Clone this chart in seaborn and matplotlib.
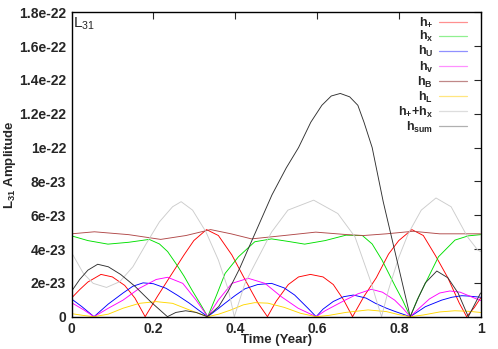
import numpy as np
import pandas as pd
import matplotlib
matplotlib.use('Agg')
import matplotlib.pyplot as plt
import seaborn as sns

# amplitudes, in units of 1e-23
t_plus = [0, 0.02, 0.04, 0.072, 0.1, 0.13, 0.155, 0.18, 0.21, 0.243, 0.275, 0.299, 0.33, 0.359, 0.392,
          0.424, 0.456, 0.479, 0.5, 0.53, 0.555, 0.584, 0.615, 0.64, 0.665, 0.687, 0.715, 0.745, 0.775,
          0.8, 0.832, 0.86, 0.89, 0.92, 0.948, 0.966, 0.985, 1.0]
a_plus = [1.1, 1.6, 2.05, 2.5, 2.35, 1.85, 1.1, 0, 1.2, 2.45, 3.65, 4.5, 5.15, 4.8, 3.65,
          2.2, 0.8, 0, 0.9, 1.9, 2.35, 2.5, 2.35, 1.9, 1.0, 0, 1.2, 2.3, 3.7,
          4.5, 5.15, 4.8, 3.6, 2.3, 0.8, 0, 0.55, 1.1]

t_cross = [0, 0.04, 0.089, 0.14, 0.19, 0.215, 0.235, 0.255, 0.275, 0.295, 0.315, 0.333, 0.355, 0.3755,
           0.408, 0.448, 0.489, 0.53, 0.57, 0.62, 0.671, 0.711, 0.735, 0.759, 0.792, 0.81, 0.828,
           0.845, 0.865, 0.897, 0.9375, 0.97, 1.0]
a_cross = [4.78, 4.5, 4.29, 4.4, 4.57, 4.3, 3.85, 3.15, 2.4, 1.55, 0.75, 0, 1.3, 2.56,
           3.54, 4.43, 4.6, 4.45, 4.29, 4.5, 4.82, 4.8, 4.3, 3.35, 1.77, 0.95, 0,
           1.0, 1.97, 3.54, 4.53, 4.78, 4.85]

t_u = [0, 0.025, 0.055, 0.09, 0.126, 0.15, 0.175, 0.2, 0.231, 0.26, 0.288, 0.31, 0.333, 0.36, 0.375,
       0.4, 0.424, 0.455, 0.489, 0.52, 0.5455, 0.578, 0.598, 0.615, 0.64, 0.665, 0.689, 0.72, 0.743,
       0.77, 0.792, 0.81, 0.828, 0.85, 0.865, 0.905, 0.93, 0.954, 0.97, 1.0]
a_u = [1.05, 0.6, 0, 0.75, 1.4, 1.8, 2.0, 1.95, 1.68, 1.25, 0.8, 0.4, 0, 0.5, 0.79,
       1.25, 1.65, 1.9, 1.97, 1.7, 1.28, 0.5, 0, 0.45, 0.9, 1.18, 1.28, 1.1, 0.79,
       0.5, 0.3, 0.15, 0, 0.35, 0.59, 0.98, 1.15, 1.24, 1.22, 1.15]

t_v = [0, 0.03, 0.055, 0.09, 0.126, 0.166, 0.207, 0.235, 0.272, 0.304, 0.333, 0.359, 0.392, 0.432,
       0.473, 0.513, 0.554, 0.598, 0.62, 0.669, 0.7, 0.733, 0.76, 0.79, 0.81, 0.828, 0.85, 0.875,
       0.9, 0.925, 0.95, 0.975, 1.0]
a_v = [0.83, 0.4, 0, 0.5, 0.98, 1.68, 2.2, 2.33, 1.97, 1.0, 0, 0.98, 1.97, 2.27,
       1.97, 1.18, 0.5, 0, 0.35, 0.98, 1.35, 1.62, 1.45, 0.98, 0.5, 0, 0.5, 1.05,
       1.4, 1.52, 1.45, 1.2, 0.95]

t_b = [0, 0.056, 0.14, 0.218, 0.28, 0.34, 0.39, 0.44, 0.52, 0.597, 0.675, 0.714, 0.77, 0.835, 0.9, 1.0]
a_b = [4.9, 5.02, 4.85, 4.57, 4.8, 5.15, 4.9, 4.6, 4.8, 5.0, 4.85, 4.8, 4.9, 5.05, 4.9, 4.9]

t_l = [0, 0.03, 0.055, 0.09, 0.126, 0.166, 0.207, 0.247, 0.288, 0.315, 0.333, 0.36, 0.39, 0.42,
       0.448, 0.48, 0.52, 0.56, 0.598, 0.63, 0.67, 0.725, 0.77, 0.8, 0.828, 0.86, 0.9, 0.937, 0.97, 1.0]
a_l = [0.18, 0.07, 0, 0.15, 0.5, 0.79, 0.89, 0.79, 0.4, 0.15, 0, 0.15, 0.4, 0.7,
       0.83, 0.8, 0.55, 0.2, 0, 0.08, 0.25, 0.4, 0.3, 0.12, 0, 0.1, 0.28, 0.35, 0.32, 0.25]

t_pc = [0, 0.029, 0.053, 0.0855, 0.118, 0.15, 0.183, 0.215, 0.247, 0.268, 0.296, 0.3285, 0.359, 0.3835,
        0.398, 0.424, 0.448, 0.489, 0.529, 0.592, 0.651, 0.693, 0.733, 0.745, 0.758, 0.775, 0.8, 0.823,
        0.855, 0.891, 0.928, 0.968, 0.993, 1.0]
a_pc = [3.8, 2.56, 1.97, 1.73, 2.07, 2.95, 4.33, 5.61, 6.5, 6.8, 6.3, 5.02, 3.35, 1.58,
        0, 1.97, 3.1, 5.0, 6.3, 6.89, 6.1, 4.72, 1.97, 1.0, 0, 1.6, 3.5, 4.9,
        6.3, 7.02, 6.5, 4.72, 3.94, 3.85]

t_sum = [0, 0.02, 0.04, 0.064, 0.09, 0.12, 0.155, 0.195, 0.2345, 0.255, 0.279, 0.305, 0.332, 0.36,
         0.385, 0.41, 0.45, 0.49, 0.525, 0.555, 0.585, 0.612, 0.635, 0.657, 0.68, 0.7, 0.715, 0.735,
         0.762, 0.795, 0.828, 0.849, 0.865, 0.893, 0.92, 0.945, 0.97, 0.985, 1.0]
a_sum = [1.5, 2.2, 2.75, 3.1, 2.95, 2.5, 1.8, 0.85, 0, 0.25, 0.35, 0.25, 0, 0.6,
         1.6, 2.8, 5.0, 7.2, 8.8, 10.0, 11.5, 12.5, 13.05, 13.2, 13.0, 12.5, 11.5, 10.0,
         6.8, 3.4, 0, 1.18, 2.0, 2.7, 2.3, 1.4, 0, 0.7, 1.4]

names = [r'h$_\mathbf{+}$', r'h$_\mathbf{x}$', r'h$_\mathbf{U}$', r'h$_\mathbf{v}$',
         r'h$_\mathbf{B}$', r'h$_\mathbf{L}$', r'h$_\mathbf{+}$+h$_\mathbf{x}$', r'h$_\mathbf{sum}$']
colors = ['#ff0000', '#00e000', '#0000ff', '#ff00ff', '#b04848', '#ffd700', '#cccccc', '#303030']
legend_colors = ['#ff9090', '#90f090', '#9090ff', '#ff90ff', '#c08888', '#ffe680', '#dddddd', '#b0b0b0']

series_t = [t_plus, t_cross, t_u, t_v, t_b, t_l, t_pc, t_sum]
series_a = [a_plus, a_cross, a_u, a_v, a_b, a_l, a_pc, a_sum]

frames = []
for name, tt, aa in zip(names, series_t, series_a):
    frames.append(pd.DataFrame({'t': tt, 'amp': np.array(aa) * 1e-23, 'series': name}))
df = pd.concat(frames, ignore_index=True)

sns.set_style('white')
plt.rcParams['font.family'] = ['Liberation Sans', 'DejaVu Sans']
plt.rcParams['mathtext.fontset'] = 'custom'
plt.rcParams['mathtext.rm'] = 'Liberation Sans'
plt.rcParams['mathtext.bf'] = 'Liberation Sans:bold'

fig = plt.figure(figsize=(4.98, 3.49), dpi=100)
ax = fig.add_axes([0.1436, 0.0926, 0.8214, 0.8722])

sns.lineplot(data=df, x='t', y='amp', hue='series', hue_order=names, palette=colors,
             estimator=None, sort=False, lw=0.65, ax=ax)

ax.set_xlim(0, 1)
ax.set_ylim(0, 1.8e-22)
ax.set_xticks([0, 0.2, 0.4, 0.6, 0.8, 1])
ax.set_xticklabels(['0', '0.2', '0.4', '0.6', '0.8', '1'])
yt = [i * 2e-23 for i in range(10)]
ax.set_yticks(yt)
ax.set_yticklabels(['0', '2e-23', '4e-23', '6e-23', '8e-23', '1e-22', '1.2e-22', '1.4e-22',
                    '1.6e-22', '1.8e-22'])
ax.tick_params(direction='in', top=True, right=True, length=5, width=0.8, labelsize=10, pad=4)
for lab in ax.get_xticklabels() + ax.get_yticklabels():
    lab.set_fontweight('bold')
for sp in ax.spines.values():
    sp.set_color('black')
    sp.set_linewidth(1.0)

ax.set_xlabel('Time (Year)', fontsize=9.5, fontweight='bold')
ax.set_ylabel(r'L$_\mathbf{31}$ Amplitude', fontsize=9.5, fontweight='bold')
ax.xaxis.set_label_coords(0.5, -0.056)
ax.yaxis.set_label_coords(-0.131, 0.5)
ax.text(0.004, 0.99, r'L$_{\mathrm{31}}$', transform=ax.transAxes, fontsize=11, va='top', ha='left')

handles, labels = ax.get_legend_handles_labels()
leg = ax.legend(handles, labels, loc='upper right', frameon=False, markerfirst=False,
                prop={'weight': 'bold', 'size': 9}, handlelength=2.2,
                handletextpad=0.5, labelspacing=0.0, borderaxespad=0.2,
                bbox_to_anchor=(0.985, 1.012))
for lh, c in zip(leg.get_lines(), legend_colors):
    lh.set_color(c)
    lh.set_linewidth(0.9)
for txt in leg.get_texts():
    txt.set_ha('right')

fig.savefig('out.png', dpi=100)
